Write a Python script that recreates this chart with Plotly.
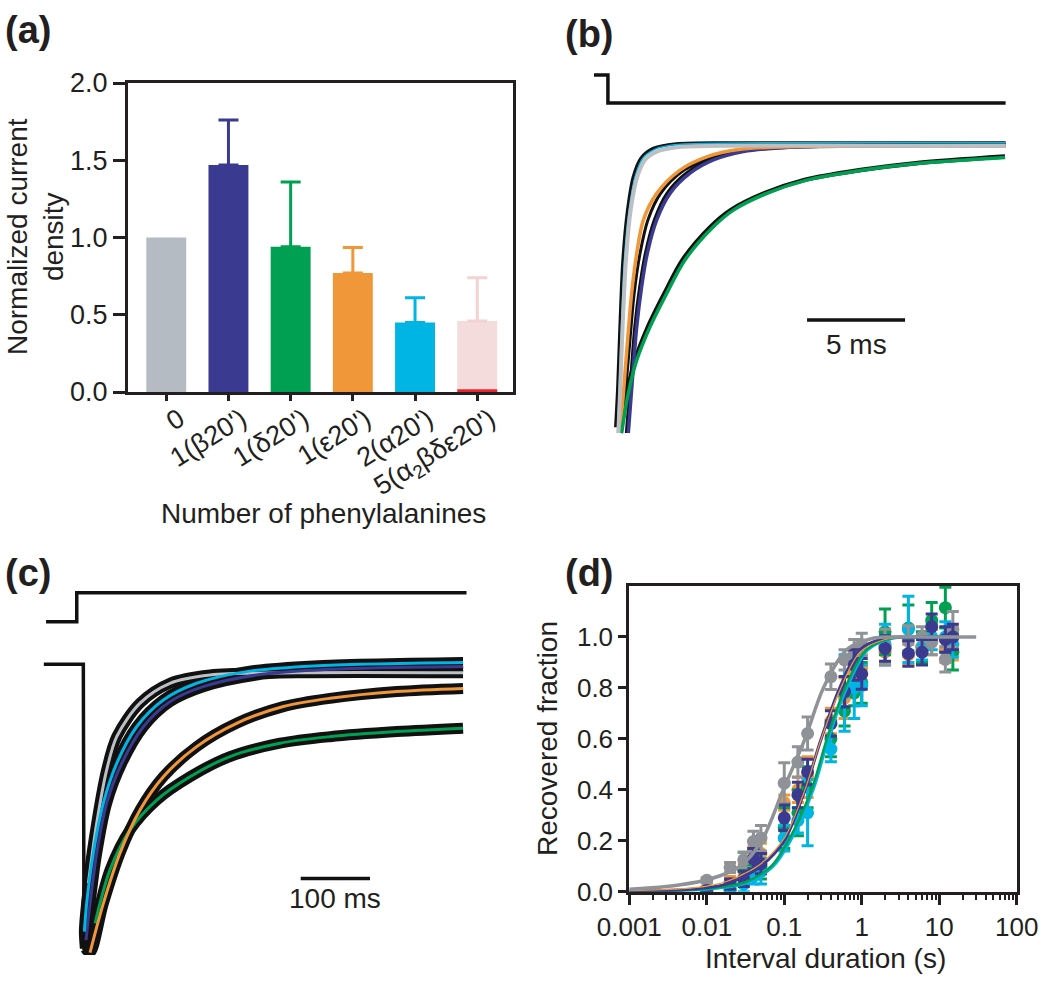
import plotly.graph_objects as go

W, H = 1050, 981
FONT = "Liberation Sans, Arial, Helvetica, sans-serif"
INK = "#231f20"

GRAY_BAR = "#b4bbc2"
NAVY = "#3a3a91"
GREEN = "#00a052"
ORANGE = "#f0973a"
CYAN = "#00b4e4"
PINK = "#f5dcdc"
PINK_ERR = "#f2d2d2"
RED = "#e8262f"
GRAY_D = "#8f9296"
GRAY_FIT = "#bcc0c4"
BLACK = "#111111"

# ---------------- (a) bar chart data ----------------
a_labels = ["0", "1(β20')", "1(δ20')", "1(ε20')", "2(α20')", "5(α<sub>2</sub>βδε20')"]
a_values = [1.0, 1.47, 0.94, 0.77, 0.45, 0.46]
a_err = [0.0, 0.29, 0.42, 0.165, 0.16, 0.28]
a_colors = [GRAY_BAR, NAVY, GREEN, ORANGE, CYAN, PINK]
a_err_colors = [GRAY_BAR, NAVY, GREEN, ORANGE, CYAN, PINK_ERR]
a_red_strip = 0.018

# ---------------- (b) traces (time in ms, normalised current) ----------------
b_volt_t = [0.0, 0.71, 0.71, 21.0]
b_volt_i = [0.243, 0.243, 0.146, 0.146]

b_gray_t = [1.24, 1.33, 1.46, 1.63, 1.87, 2.21, 2.60, 3.20, 4.22, 6.60, 21.0]
b_gray_i = [-1.00, -0.86, -0.63, -0.40, -0.226, -0.110, -0.052, -0.023, -0.008, -0.003, -0.003]
b_cyan_t = [1.20, 1.28, 1.40, 1.55, 1.78, 2.10, 2.50, 3.10, 4.00, 6.00, 21.0]
b_cyan_i = [-1.00, -0.86, -0.63, -0.40, -0.23, -0.11, -0.045, -0.015, 0.000, 0.006, 0.008]
b_orange_t = [1.33, 1.50, 1.70, 1.92, 2.18, 2.52, 3.20, 4.39, 5.75, 7.45, 10.0, 21.0]
b_orange_i = [-1.00, -0.862, -0.689, -0.515, -0.376, -0.260, -0.168, -0.087, -0.041, -0.015, -0.006, -0.003]
b_navy_t = [1.75, 1.97, 2.18, 2.43, 2.72, 3.20, 3.88, 4.90, 6.09, 7.62, 10.0, 21.0]
b_navy_i = [-1.00, -0.804, -0.631, -0.492, -0.376, -0.260, -0.168, -0.098, -0.052, -0.023, -0.008, -0.003]
b_green_t = [1.41, 1.75, 2.18, 2.86, 3.71, 4.64, 6.09, 7.11, 8.81, 10.85, 13.74, 16.46, 20.97]
b_green_i = [-1.00, -0.862, -0.747, -0.631, -0.515, -0.399, -0.284, -0.226, -0.168, -0.122, -0.087, -0.064, -0.043]

b_raw1_t = [1.10, 1.20, 1.32, 1.47, 1.70, 2.00, 2.40, 3.00, 4.20, 7.0, 21.0]
b_raw1_i = [-0.98, -0.85, -0.63, -0.40, -0.23, -0.11, -0.045, -0.012, 0.004, 0.008, 0.008]
b_raw2_t = [1.40, 1.60, 1.82, 2.05, 2.35, 2.75, 3.40, 4.60, 6.0, 7.6, 10.0, 21.0]
b_raw2_i = [-1.00, -0.862, -0.689, -0.515, -0.376, -0.260, -0.168, -0.087, -0.045, -0.018, -0.006, 0.0]
b_raw3_t = [1.65, 1.88, 2.08, 2.33, 2.62, 3.08, 3.72, 4.70, 5.90, 7.40, 10.0, 21.0]
b_raw3_i = [-1.00, -0.804, -0.631, -0.492, -0.376, -0.260, -0.168, -0.098, -0.052, -0.023, -0.008, 0.0]
b_raw4_t = [1.35, 1.68, 2.10, 2.76, 3.60, 4.52, 5.95, 6.98, 8.68, 10.7, 13.6, 16.3, 20.97]
b_raw4_i = [-1.00, -0.862, -0.747, -0.631, -0.515, -0.399, -0.284, -0.226, -0.168, -0.122, -0.087, -0.064, -0.040]

b_scale_start, b_scale_len, b_scale_level = 10.87, 5.0, -0.608

# ---------------- (c) traces (time in ms, normalised current) ----------------
c_volt_t = [-54.8, -10.5, -10.5, 552.0]
c_volt_i = [0.150, 0.150, 0.252, 0.252]
c_base_t = [-58.0, -1.0, 0.0, 2.0]
c_base_i = [0.0, 0.0, -1.0, -1.0]

c_gray_t = [6.3, 18.3, 32.7, 47.2, 80.8, 124, 182, 307, 547]
c_gray_i = [-0.771, -0.560, -0.372, -0.255, -0.137, -0.067, -0.038, -0.030, -0.030]
c_cyan_t = [0.5, 3.8, 13.4, 27.9, 47.2, 76.0, 114.5, 162.6, 234.7, 330.9, 547]
c_cyan_i = [-0.941, -0.842, -0.665, -0.489, -0.349, -0.220, -0.126, -0.067, -0.026, -0.006, 0.006]
c_navy_t = [2.9, 8.7, 18.3, 32.7, 54.4, 85.6, 124, 172, 249, 355, 547]
c_navy_i = [-0.971, -0.842, -0.665, -0.489, -0.349, -0.220, -0.132, -0.079, -0.038, -0.018, -0.008]
c_orange_t = [8.7, 27.9, 51.9, 80.8, 114.5, 162.6, 220.2, 287.6, 355, 451.3, 547]
c_orange_i = [-1.015, -0.842, -0.665, -0.513, -0.396, -0.290, -0.208, -0.149, -0.120, -0.096, -0.085]
c_green_t = [15.9, 37.5, 66.4, 104.9, 153, 210.7, 282.8, 355, 451.3, 547]
c_green_i = [-0.912, -0.724, -0.583, -0.478, -0.396, -0.325, -0.278, -0.255, -0.237, -0.225]
c_raw_start_t, c_raw_start_i = 2.0, -1.0

c_scale_start, c_scale_len, c_scale_level = 312.7, 100.0, -0.754

# ---------------- (d) recovery data ----------------
d_x = [0.01, 0.02, 0.03, 0.04, 0.05, 0.1, 0.15, 0.2, 0.4, 0.6, 0.8, 1, 2, 4, 6, 8, 12, 15]
d_gray_y = [0.045, 0.095, 0.125, 0.197, 0.21, 0.426, 0.509, 0.621, 0.844, 0.91, 0.94, 0.97, 0.96, 0.984, 1.0, 0.98, 0.912, 1.03]
d_gray_e = [0.01, 0.02, 0.03, 0.04, 0.05, 0.08, 0.06, 0.065, 0.05, 0.04, 0.05, 0.045, 0.07, 0.06, 0.04, 0.05, 0.05, 0.07]
d_navy_y = [0.005, 0.03, 0.05, 0.13, 0.11, 0.29, 0.38, 0.47, 0.66, 0.785, 0.89, 0.855, 0.955, 0.935, 0.94, 1.04, 0.99, 1.0]
d_navy_e = [0.01, 0.02, 0.03, 0.04, 0.04, 0.05, 0.05, 0.05, 0.05, 0.06, 0.06, 0.06, 0.05, 0.05, 0.05, 0.05, 0.05, 0.05]
d_green_y = [0.0, 0.005, 0.09, 0.12, 0.10, 0.25, 0.31, 0.41, 0.60, 0.71, 0.78, 0.82, 1.02, 1.035, 0.96, 1.065, 1.115, 0.94]
d_green_e = [0.01, 0.02, 0.065, 0.05, 0.05, 0.08, 0.09, 0.08, 0.07, 0.06, 0.05, 0.08, 0.09, 0.09, 0.06, 0.07, 0.08, 0.07]
d_orange_y = [0.01, 0.04, 0.08, 0.17, 0.15, 0.35, 0.40, 0.45, 0.67, 0.76, 0.85, 0.88, 0.94, 0.93, 0.95, 0.98, 0.95, 0.95]
d_orange_e = [0.01, 0.02, 0.03, 0.03, 0.04, 0.03, 0.05, 0.08, 0.05, 0.08, 0.05, 0.05, 0.04, 0.04, 0.05, 0.05, 0.05, 0.04]
d_cyan_y = [0.0, 0.01, 0.03, 0.06, 0.08, 0.21, 0.28, 0.31, 0.56, 0.78, 0.80, 0.81, 0.97, 1.03, 0.96, 1.0, 1.0, 0.97]
d_cyan_e = [0.01, 0.02, 0.03, 0.03, 0.05, 0.05, 0.05, 0.13, 0.05, 0.15, 0.12, 0.08, 0.08, 0.13, 0.05, 0.05, 0.06, 0.05]

fit_gray_x = [0.001, 0.003, 0.011, 0.027, 0.051, 0.097, 0.185, 0.32, 0.64, 1.4, 3, 10, 30]
fit_gray_y = [0.01, 0.02, 0.05, 0.10, 0.20, 0.40, 0.60, 0.80, 0.95, 0.995, 1.0, 1.0, 1.0]
fit_navy_x = [0.001, 0.005, 0.01, 0.018, 0.03, 0.05, 0.1, 0.185, 0.3, 0.52, 0.95, 2, 5, 15]
fit_navy_y = [0.002, 0.008, 0.016, 0.03, 0.06, 0.10, 0.20, 0.40, 0.60, 0.80, 0.95, 0.995, 1.0, 1.0]
fit_orange_x = [0.001, 0.005, 0.01, 0.018, 0.03, 0.05, 0.1, 0.185, 0.3, 0.52, 0.95, 2, 5, 15]
fit_orange_y = [0.004, 0.012, 0.022, 0.04, 0.07, 0.11, 0.21, 0.40, 0.60, 0.79, 0.94, 0.99, 1.0, 1.0]
fit_green_x = [0.001, 0.01, 0.03, 0.068, 0.113, 0.225, 0.355, 0.61, 1.15, 2.4, 6, 15]
fit_green_y = [0.002, 0.012, 0.035, 0.10, 0.20, 0.40, 0.60, 0.80, 0.95, 0.995, 1.0, 1.0]
fit_cyan_x = [0.001, 0.01, 0.033, 0.072, 0.12, 0.236, 0.37, 0.64, 1.2, 2.5, 6, 15]
fit_cyan_y = [0.002, 0.01, 0.035, 0.10, 0.20, 0.40, 0.60, 0.80, 0.95, 0.995, 1.0, 1.0]
d_xticks = [0.001, 0.01, 0.1, 1, 10, 100]
d_xticktext = ["0.001", "0.01", "0.1", "1", "10", "100"]

fig = go.Figure()

# ---- (a)
BARW = 0.642
for i, (v, e) in enumerate(zip(a_values, a_err)):
    fig.add_trace(go.Bar(
        x=[i], y=[v], width=BARW, xaxis="x", yaxis="y", showlegend=False,
        marker=dict(color=a_colors[i], line=dict(width=0)),
        error_y=dict(type="data", symmetric=False, array=[e], arrayminus=[0],
                     color=a_err_colors[i], thickness=3, width=10, visible=e > 0),
    ))
fig.add_trace(go.Bar(x=[len(a_values) - 1], y=[a_red_strip], base=0, width=BARW,
                     marker=dict(color=RED, line=dict(width=0)),
                     xaxis="x", yaxis="y", showlegend=False))


def line(x, y, color, width, ax, shape="spline"):
    fig.add_trace(go.Scatter(x=x, y=y, mode="lines", xaxis="x" + ax, yaxis="y" + ax,
                             line=dict(color=color, width=width, shape=shape, smoothing=0.9),
                             showlegend=False, hoverinfo="skip"))


# ---- (b)
line(b_volt_t, b_volt_i, BLACK, 3.5, "2", "linear")
line(b_raw4_t, b_raw4_i, BLACK, 4.5, "2")
line(b_raw3_t, b_raw3_i, BLACK, 3, "2")
line(b_raw2_t, b_raw2_i, BLACK, 3, "2")
line(b_raw1_t, b_raw1_i, BLACK, 3, "2")
line(b_navy_t, b_navy_i, NAVY, 3.5, "2")
line(b_orange_t, b_orange_i, ORANGE, 3.5, "2")
line(b_green_t, b_green_i, GREEN, 3.5, "2")
line(b_cyan_t, b_cyan_i, CYAN, 1.5, "2")
line(b_gray_t, b_gray_i, GRAY_FIT, 4, "2")
line([b_scale_start, b_scale_start + b_scale_len], [b_scale_level] * 2, BLACK, 3.5, "2", "linear")

# ---- (c)
line(c_volt_t, c_volt_i, BLACK, 3.5, "3", "linear")
line(c_base_t, c_base_i, BLACK, 3.5, "3", "linear")
for tt, ii in [(c_gray_t, c_gray_i), (c_cyan_t, c_cyan_i), (c_navy_t, c_navy_i),
               (c_orange_t, c_orange_i), (c_green_t, c_green_i)]:
    line([c_raw_start_t] + tt, [c_raw_start_i] + ii, BLACK, 11, "3")
line(c_gray_t, c_gray_i, GRAY_FIT, 3, "3")
line(c_green_t, c_green_i, GREEN, 3, "3")
line(c_orange_t, c_orange_i, ORANGE, 3, "3")
line(c_navy_t, c_navy_i, NAVY, 3, "3")
line(c_cyan_t, c_cyan_i, CYAN, 3, "3")
line([c_scale_start, c_scale_start + c_scale_len], [c_scale_level] * 2, BLACK, 3.5, "3", "linear")

# ---- (d)
for yv, ev, col in [(d_orange_y, d_orange_e, ORANGE), (d_green_y, d_green_e, GREEN),
                    (d_cyan_y, d_cyan_e, CYAN), (d_gray_y, d_gray_e, GRAY_D),
                    (d_navy_y, d_navy_e, NAVY)]:
    fig.add_trace(go.Scatter(x=d_x, y=yv, mode="markers", xaxis="x4", yaxis="y4",
                             marker=dict(color=col, size=13, line=dict(width=0)),
                             error_y=dict(type="data", array=ev, color=col, thickness=3, width=6),
                             showlegend=False))
line(fit_cyan_x, fit_cyan_y, CYAN, 3, "4")
line(fit_green_x, fit_green_y, GREEN, 2.5, "4")
line(fit_navy_x, fit_navy_y, NAVY, 3, "4")
line(fit_orange_x, fit_orange_y, ORANGE, 1.2, "4")
line(fit_gray_x, fit_gray_y, GRAY_D, 3.5, "4")

tickfont = dict(family=FONT, size=27, color=INK)
tickfont_d = dict(family=FONT, size=26, color=INK)
hidden = dict(visible=False, showgrid=False, zeroline=False, automargin=False)
minor_vals = [m * 10.0 ** e for e in range(-3, 2) for m in range(2, 10)]

fig.update_layout(
    template="none",
    width=W, height=H, margin=dict(l=0, r=0, t=0, b=0, pad=0), autosize=False,
    paper_bgcolor="white", plot_bgcolor="white", barmode="overlay",
    font=dict(family=FONT, color=INK),
    xaxis=dict(domain=[128 / W, 513 / W], range=[-0.615, 5.575], anchor="y", automargin=False,
               tickmode="array", tickvals=list(range(len(a_labels))), ticktext=a_labels,
               tickangle=-32, ticklabelshift=13, ticklabelstandoff=-8,
               ticks="outside", ticklen=6, tickwidth=2.5, tickcolor=INK,
               showline=True, linewidth=3, linecolor=INK, mirror=True,
               showgrid=False, zeroline=False, tickfont=tickfont),
    yaxis=dict(domain=[1 - 392 / H, 1 - 83 / H], range=[0, 2.0], anchor="x", automargin=False,
               dtick=0.5, tickformat=".1f", ticks="outside", ticklen=12, tickwidth=2.5,
               tickcolor=INK, showline=True, linewidth=3, linecolor=INK, mirror=True,
               showgrid=False, zeroline=False, tickfont=tickfont),
    xaxis2=dict(domain=[594 / W, 1006 / W], range=[0, 21.02], anchor="y2", **hidden),
    yaxis2=dict(domain=[1 - 440 / H, 1 - 70 / H], range=[-1.0243, 0.2604], anchor="x2", **hidden),
    xaxis3=dict(domain=[43 / W, 467 / W], range=[-59.2, 552.7], anchor="y3", **hidden),
    yaxis3=dict(domain=[1 - 955 / H, 1 - 585 / H], range=[-1.0236, 0.279], anchor="x3", **hidden),
    xaxis4=dict(domain=[629.3 / W, 1016.7 / W], type="log", range=[-3, 2], anchor="y4",
                automargin=False,
                tickmode="array", tickvals=d_xticks, ticktext=d_xticktext,
                ticks="outside", ticklen=10, tickwidth=2.5, tickcolor=INK,
                minor=dict(tickmode="array", tickvals=minor_vals, ticks="outside",
                           ticklen=5, tickwidth=2, tickcolor=INK, showgrid=False),
                showline=True, linewidth=3, linecolor=INK, mirror=True,
                showgrid=False, zeroline=False, tickfont=tickfont_d),
    yaxis4=dict(domain=[1 - 891.7 / H, 1 - 586 / H], range=[0, 1.2], anchor="x4",
                automargin=False,
                tickmode="array", tickvals=[0, 0.2, 0.4, 0.6, 0.8, 1.0], tickformat=".1f",
                ticks="outside", ticklen=8, tickwidth=2.5, tickcolor=INK,
                showline=True, linewidth=3, linecolor=INK, mirror=True,
                showgrid=False, zeroline=False, tickfont=tickfont_d),
)

ann = []
lab = dict(family=FONT, size=38, color=INK, weight="bold")
for txt, x, y in [("(a)", 3, 30), ("(b)", 563, 34), ("(c)", 3, 573), ("(d)", 563, 573)]:
    ann.append(dict(text=txt, x=x / W, y=1 - y / H, xref="paper", yref="paper",
                    xanchor="left", yanchor="middle", showarrow=False, font=lab))
tf = dict(family=FONT, size=28, color=INK)
common = dict(xref="paper", yref="paper", xanchor="center", yanchor="middle", showarrow=False)
ann.append(dict(text="Normalized current<br>density", x=35 / W, y=1 - 237 / H,
                textangle=-90, font=tf, align="center", **common))
ann.append(dict(text="Number of phenylalanines", x=323 / W, y=1 - 513 / H, font=tf, **common))
ann.append(dict(text="Recovered fraction", x=547 / W, y=1 - 739 / H, textangle=-90, font=tf, **common))
ann.append(dict(text="Interval duration (s)", x=825 / W, y=1 - 958 / H, font=tf, **common))
sf = dict(family=FONT, size=28, color=INK)
ann.append(dict(text="5 ms", x=b_scale_start + b_scale_len / 2, y=-0.694, xref="x2", yref="y2",
                xanchor="center", yanchor="middle", showarrow=False, font=sf))
ann.append(dict(text="100 ms", x=c_scale_start + c_scale_len / 2, y=-0.823, xref="x3", yref="y3",
                xanchor="center", yanchor="middle", showarrow=False, font=sf))
fig.update_layout(annotations=ann)

fig.write_html("out.html", config={"displayModeBar": False},
               post_script="document.body.style.margin='0px';")
